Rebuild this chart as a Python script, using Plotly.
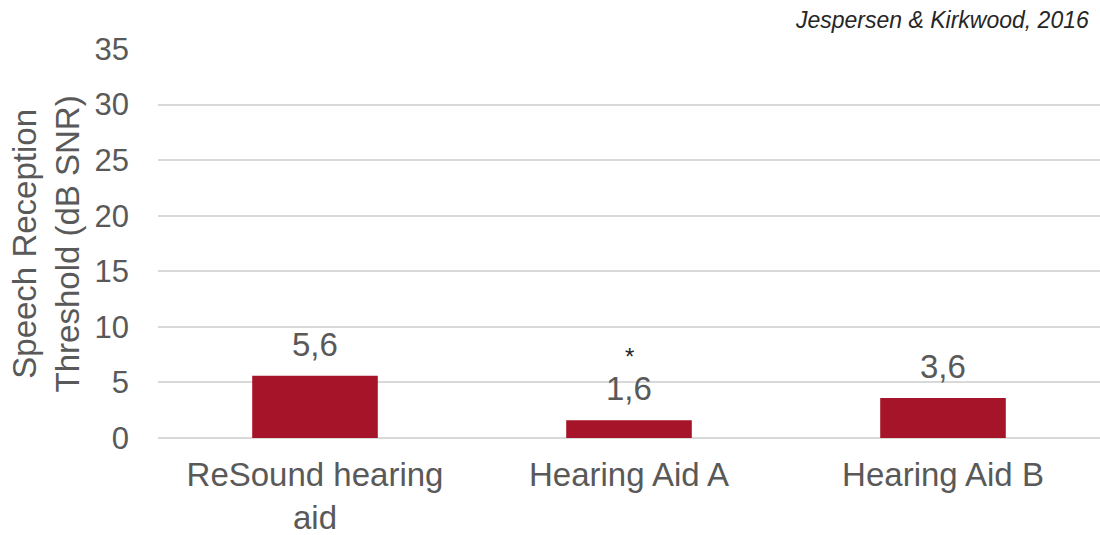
import plotly.graph_objects as go

categories = ["ReSound hearing<br>aid", "Hearing Aid A", "Hearing Aid B"]
values = [5.6, 1.6, 3.6]
value_labels = ["5,6", "1,6", "3,6"]
markers = ["", "*", ""]
y_ticks = [0, 5, 10, 15, 20, 25, 30, 35]

GRAY = "#595959"
BAR = "#A51429"
FONT = "Liberation Sans, Arial, sans-serif"

fig = go.Figure()
fig.add_trace(go.Bar(
    x=categories, y=values,
    marker=dict(color=BAR, line=dict(width=0)),
    width=0.4,
    hoverinfo="skip",
))

for c, v, lab, m in zip(categories, values, value_labels, markers):
    fig.add_annotation(x=c, y=v, text=lab, showarrow=False, yanchor="bottom",
                       yshift=11, font=dict(family=FONT, size=33, color=GRAY))
    if m:
        fig.add_annotation(x=c, y=v, text=m, showarrow=False, yanchor="bottom",
                           yshift=48, font=dict(family=FONT, size=24, color="#262626"))

fig.add_annotation(xref="paper", yref="paper", x=-0.119, y=0.5,
                   text="Speech Reception<br>Threshold (dB SNR)", textangle=-90,
                   showarrow=False, xanchor="center", yanchor="middle",
                   font=dict(family=FONT, size=33, color=GRAY))

fig.add_annotation(xref="paper", yref="paper", x=0.99, y=1.0, yshift=29,
                   text="<i>Jespersen & Kirkwood, 2016</i>", showarrow=False,
                   xanchor="right", yanchor="middle",
                   font=dict(family=FONT, size=23, color="#262626"))

fig.update_layout(
    width=1100, height=535,
    margin=dict(l=158, r=0, t=49, b=97),
    paper_bgcolor="white", plot_bgcolor="white",
    separators=",.",
    showlegend=False,
    font=dict(family=FONT, color=GRAY),
)
fig.update_yaxes(
    range=[0, 35], tickvals=y_ticks, showgrid=True, gridcolor="#d9d9d9", gridwidth=1.5,
    zeroline=True, zerolinecolor="#d9d9d9", zerolinewidth=1.5,
    showline=False, ticks="", ticklabelstandoff=28, automargin=False,
    tickfont=dict(family=FONT, size=31, color=GRAY),
)
fig.update_xaxes(
    showgrid=False, showline=False, ticks="", ticklabelstandoff=14, automargin=False,
    tickfont=dict(family=FONT, size=33, color=GRAY),
)

fig.write_html("out.html")
